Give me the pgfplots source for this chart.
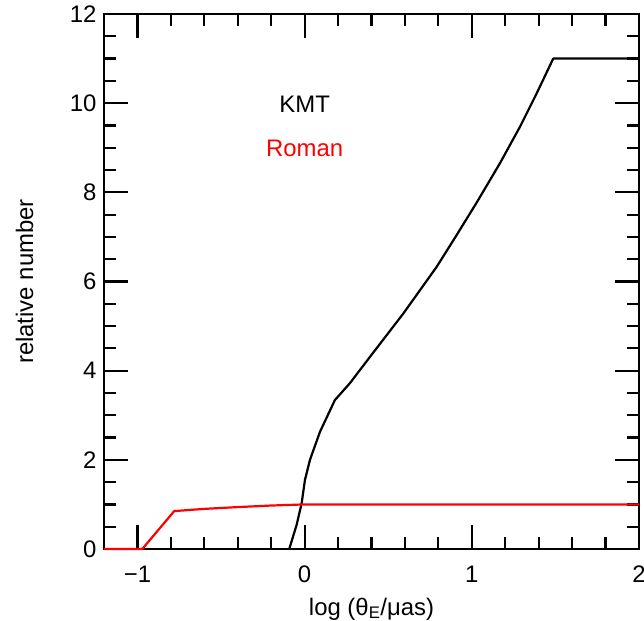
\documentclass[border=0pt]{standalone}
\usepackage{fontspec}
\setmainfont{Liberation Sans}
\usepackage{pgfplots}
\pgfplotsset{compat=1.18}
\begin{document}
\begin{tikzpicture}
\useasboundingbox (-104bp,-72bp) rectangle (540bp,549bp);
\begin{axis}[
  at={(0,0)}, anchor=south west,
  scale only axis,
  width=535bp, height=535bp,
  xmin=-1.2, xmax=2, ymin=0, ymax=12,
  xtick={-1,0,1,2},
  xticklabels={−1,0,1,2},
  ytick={0,2,4,6,8,10,12},
  minor x tick num=4,
  minor y tick num=3,
  tick align=inside,
  tick pos=both,
  major tick length=24bp,
  minor tick length=12bp,
  every tick/.style={black, line width=2.2bp},
  every minor tick/.style={black, line width=2.2bp},
  axis line style={line width=2.6bp},
  /pgf/number format/assume math mode=true,
  tick label style={font=\fontsize{24}{28}\selectfont},
  xticklabel style={anchor=base, yshift=-33bp},
  yticklabel style={xshift=-4bp},
  label style={font=\fontsize{24}{28}\selectfont},
  xlabel={log (θ\textsubscript{E}/μas)},
  xlabel style={at={(axis description cs:0.5,-0.1234)}, anchor=base},
  ylabel={relative number},
  ylabel style={at={(axis description cs:-0.1327,0.5)}, anchor=base},
  clip=false,
]
\addplot[black, line width=2.2bp, line join=round] coordinates {
  (-0.092,0) (-0.048,0.54) (-0.018,1.02) (0.002,1.55) (0.032,2.0)
  (0.092,2.63) (0.181,3.34) (0.271,3.72) (0.391,4.31) (0.590,5.28)
  (0.790,6.33) (0.909,7.04) (1.029,7.77) (1.168,8.65) (1.288,9.47)
  (1.388,10.22) (1.487,11.0) (2.0,11.0)
};
\addplot[red, line width=2.2bp, line join=round] coordinates {
  (-1.2,0) (-0.971,0) (-0.78,0.85) (-0.6,0.90) (-0.4,0.94) (-0.2,0.975) (0.0,1.0) (2.0,1.0)
};
\node[anchor=base, font=\fontsize{24}{28}\selectfont] at (axis cs:0.0,9.79) {KMT};
\node[anchor=base, red, font=\fontsize{24}{28}\selectfont] at (axis cs:0.0,8.80) {Roman};
\end{axis}
\end{tikzpicture}
\end{document}
